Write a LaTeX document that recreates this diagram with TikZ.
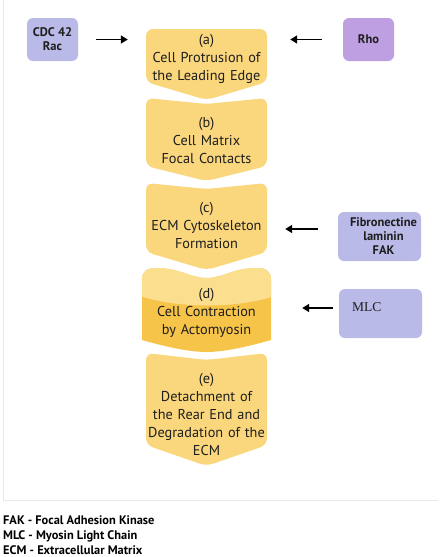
\documentclass[tikz,border=0pt]{standalone}
\usepackage{fontspec}
\setmainfont{PT Sans}
\newfontfamily\mlcfont{Liberation Serif}
\usetikzlibrary{arrows.meta}
\definecolor{boxy}{RGB}{250,215,125}
\definecolor{dlight}{RGB}{251,222,142}
\definecolor{ddark}{RGB}{246,196,72}
\definecolor{lav}{RGB}{186,186,232}
\definecolor{rhoc}{RGB}{190,160,226}
\definecolor{framec}{RGB}{232,232,238}
\definecolor{txt}{RGB}{30,30,30}
\begin{document}
\begin{tikzpicture}[x=1pt,y=-1pt,
  stagetext/.style={align=center, text width=121pt, inner sep=0pt, minimum width=121pt, text=txt, font=\fontsize{14.3}{18}\selectfont},
  sidebox/.style={rounded corners=6pt, inner sep=0pt, text=txt, align=center, font=\bfseries\fontsize{12.5}{14}\selectfont},
  arr/.style={line width=1.5pt, -{Triangle[length=7pt,width=8pt]}},
  legendtext/.style={anchor=base west, inner sep=0pt, text=black, font=\bfseries\fontsize{12.4}{15}\selectfont}]
\useasboundingbox (0,0) rectangle (440,557);
\fill[white] (0,0) rectangle (440,557);
\draw[framec, line width=0.8pt] (3,0) -- (3,500) -- (438,500);

% chevrons
\fill[boxy, rounded corners=7pt] (146,82) -- (146,29) -- (267,29) -- (267,82) -- (206.5,100) -- cycle;
\fill[boxy, rounded corners=7pt] (146,166) -- (146,98) -- (206.5,104) -- (267,98) -- (267,166) -- (206.5,181) -- cycle;
\fill[boxy, rounded corners=7pt] (146,252) -- (146,183) -- (206.5,189) -- (267,183) -- (267,252) -- (206.5,270) -- cycle;
\begin{scope}
\clip (142,340) -- (142,280) .. controls (142,271) and (147,268) .. (156,268) .. controls (180,268) and (190,278) .. (206.5,278) .. controls (223,278) and (233,268) .. (257,268) .. controls (266,268) and (271,271) .. (271,280) -- (271,340) .. controls (250,346) and (225,352) .. (206.5,352) .. controls (188,352) and (163,346) .. (142,340) -- cycle;
\fill[ddark] (130,260) rectangle (285,360);
\fill[dlight] (130,260) -- (130,292) .. controls (170,310) and (245,310) .. (285,292) -- (285,260) -- cycle;
\end{scope}
\fill[boxy, rounded corners=7pt] (146,445) -- (146,353) -- (206.5,360) -- (267,353) -- (267,445) -- (206.5,466) -- cycle;

% stage texts
\node[stagetext] (ta) at (206.5,59) {(a)\\Cell Protrusion of\\the Leading Edge};
\node[stagetext] (tb) at (206.5,140) {(b)\\Cell Matrix\\Focal Contacts};
\node[stagetext] (tc) at (206.5,225) {(c)\\ECM Cytoskeleton\\Formation};
\node[stagetext, text width=129pt, minimum width=129pt] (td) at (206.5,313) {(d)\\Cell Contraction\\by Actomyosin};
\node[stagetext] (te) at (206.5,414) {(e)\\Detachment of\\the Rear End and\\Degradation of the\\ECM};

% side boxes
\node[sidebox, fill=lav, minimum width=51pt, minimum height=43pt] (cdc) at (52.5,39.5) {CDC 42\\Rac};
\node[sidebox, fill=rhoc, minimum width=51pt, minimum height=43pt] (rho) at (368.5,39.5) {Rho};
\node[sidebox, fill=lav, minimum width=83pt, minimum height=49pt] (fib) at (379.5,236.5) {\hspace*{8pt}Fibronectine\\\hspace*{8pt}laminin\\\hspace*{8pt}FAK};
\node[sidebox, fill=lav, minimum width=83pt, minimum height=49pt] (mlc) at (380.5,313.5) {};
\node[anchor=west, inner sep=0pt, text=txt, font=\mlcfont\fontsize{13.5}{16}\selectfont] (mlct) at (352,307.5) {MLC};

% arrows
\draw[arr, shorten <=18pt, shorten >=18pt] (cdc.east) -- (cdc.east -| ta.west);
\draw[arr, shorten <=21pt, shorten >=23pt] (rho.west) -- (rho.west -| ta.east);
\draw[arr, shorten <=20pt, shorten >=18pt] ([yshift=7.5pt]fib.west) -- ([yshift=7.5pt]fib.west -| tc.east);
\draw[arr, shorten <=6pt, shorten >=31pt] ([yshift=5.5pt]mlc.west) -- ([yshift=5.5pt]mlc.west -| td.east);

% legend
\node[legendtext] (l1) at (3,524) {FAK - Focal Adhesion Kinase};
\node[legendtext] (l2) at (3,539) {MLC - Myosin Light Chain};
\node[legendtext] (l3) at (3,554) {ECM - Extracellular Matrix};
\end{tikzpicture}
\end{document}
